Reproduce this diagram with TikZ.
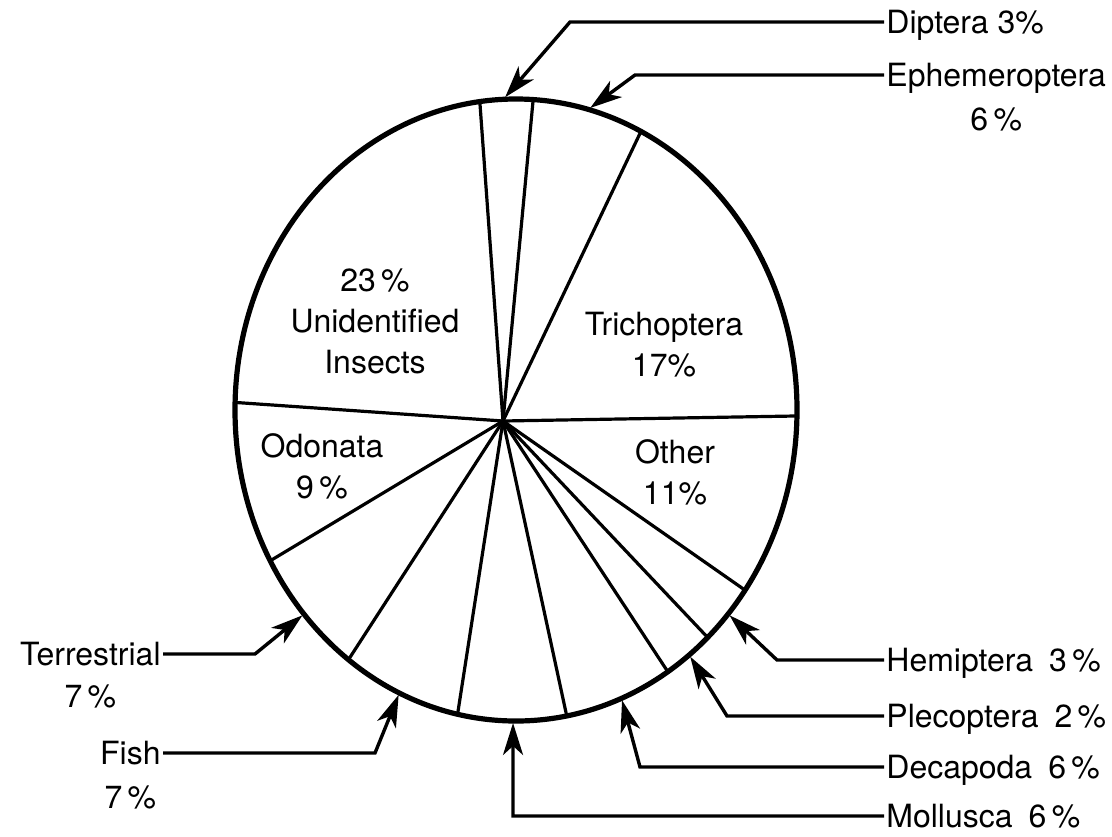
\documentclass[tikz,border=0pt]{standalone}
\usepackage{fontspec}
\setmainfont{TeX Gyre Heros}
\usetikzlibrary{arrows.meta,positioning}

\begin{document}
\begin{tikzpicture}[x = 0.5pt, y = -0.5pt,
    font = \fontsize{16}{20.5}\selectfont,
    spoke/.style = {line width = 1.6pt},
    rim/.style = {line width = 2.6pt},
    pointer/.style = {line width = 1.7pt, -{Stealth[length = 16pt, width = 10pt, inset = 4.5pt]}},
    slicelabel/.style = {align = center, inner sep = 0pt},
    outlabel/.style = {inner sep = 1pt, text height = 11.5pt, text depth = 0pt}]
    \useasboundingbox (0,0) rectangle (1112,836);
    \coordinate (O) at (503,421);
    \coordinate (E) at (516,410);
    % slices
    \foreach \ang in {262.6, 273.5, 296.4, 1.1, 35.4, 47, 57.3, 79.6, 102, 126.6, 151, 181.4}
        \draw[spoke] (O) -- ([shift = {(E)}] \ang:281 and 311);
    \draw[rim] (E) ellipse [x radius = 281, y radius = 311];
    \node[slicelabel] (unid) at (375,321) {23\,\%\\Unidentified\\Insects};
    \node[slicelabel] (trich) at (664,345) {Trichoptera\\17\%};
    \node[slicelabel] (other) at (675,472) {Other\\11\%};
    \node[slicelabel] (odon) at (322,466) {Odonata\\9\,\%};
    % outside labels
    \node[outlabel, anchor = west] (dipt) at (884,22) {Diptera 3\%};
    \node[outlabel, anchor = west] (ephem) at (884,75) {Ephemeroptera};
    \node[outlabel, below = 8pt of ephem] (ephemp) {6\,\%};
    \node[outlabel, anchor = west] (hemi) at (884,660) {Hemiptera\enspace 3\,\%};
    \node[outlabel, anchor = west] (pleco) at (884,716) {Plecoptera\enspace 2\,\%};
    \node[outlabel, anchor = west] (deca) at (884,767) {Decapoda\enspace 6\,\%};
    \node[outlabel, anchor = west] (moll) at (884,816) {Mollusca\enspace 6\,\%};
    \node[outlabel, anchor = east] (terr) at (163,654) {Terrestrial};
    \node[outlabel, below = 7pt of terr] (terrp) {7\,\%};
    \node[outlabel, anchor = east] (fish) at (163,753) {Fish};
    \node[outlabel, below = 8pt of fish] (fishp) {7\,\%};
    % arrow tips on the rim
    \coordinate (dipttip) at ([shift = {(E)}] 267.8:283 and 313);
    \coordinate (ephemtip) at ([shift = {(E)}] 285.2:283 and 313);
    \coordinate (hemitip) at ([shift = {(E)}] 41:283 and 313);
    \coordinate (plecotip) at ([shift = {(E)}] 52:283 and 313);
    \coordinate (decatip) at ([shift = {(E)}] 68:283 and 313);
    \coordinate (molltip) at ([shift = {(E)}] 90.6:283 and 313);
    \coordinate (fishtip) at ([shift = {(E)}] 114.5:283 and 313);
    \coordinate (terrtip) at ([shift = {(E)}] 139:283 and 313);
    \draw[pointer] (dipt.west) -- ++(-314,0) -- (dipttip);
    \draw[pointer] (ephem.west) -- ++(-249,0) -- (ephemtip);
    \draw[pointer] (hemi.west) -- ++(-107,0) -- (hemitip);
    \draw[pointer] (pleco.west) -- ++(-157,0) -- (plecotip);
    \draw[pointer] (deca.west) -- ++(-244,0) -- (decatip);
    \draw[pointer] (moll.west) -- ++(-371,0) -- (molltip);
    \draw[pointer] (terr.east) -- ++(92,0) -- (terrtip);
    \draw[pointer] (fish.east) -- ++(212,0) -- (fishtip);
\end{tikzpicture}
\end{document}
